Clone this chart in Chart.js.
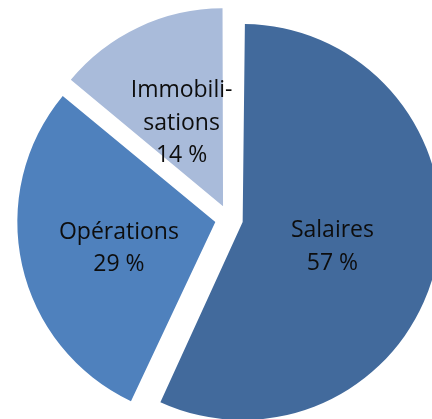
<!DOCTYPE html>
<html>
<head>
<meta charset="utf-8">
<script src="https://cdn.jsdelivr.net/npm/chart.js@4"></script>
<style>
  html, body { margin: 0; padding: 0; background: #ffffff; }
  #wrap { width: 432px; height: 419px; position: relative; }
</style>
</head>
<body>
<div id="wrap"><canvas id="c"></canvas></div>
<script>
const categories = ["Salaires", "Opérations", "Immobilisations"];
const labelLines = [["Salaires"], ["Opérations"], ["Immobili-", "sations"]];
const values = [57, 29, 14];
const colors = ["#426A9C", "#4F81BD", "#A9BBDA"];

// Keep every slice at the same radius: Chart.js enlarges slices wider than 180° by offset/4.
const equalRadius = {
  id: "equalRadius",
  afterDatasetUpdate(chart, args) {
    args.meta.data.forEach(el => {
      const off = (el.options.offset || 0) / 4;
      const fix = 1 - Math.sin(Math.min(Math.PI, el.circumference || 0));
      el.outerRadius -= off * fix;
    });
  }
};

const sliceLabels = {
  id: "sliceLabels",
  afterDatasetsDraw(chart) {
    const ctx = chart.ctx;
    const meta = chart.getDatasetMeta(0);
    const data = chart.data.datasets[0].data;
    const total = data.reduce((a, b) => a + b, 0);
    ctx.save();
    ctx.font = "23px 'Open Sans'";
    ctx.fillStyle = "#0D0D0D";
    ctx.textAlign = "center";
    ctx.textBaseline = "alphabetic";
    meta.data.forEach((el, i) => {
      const mid = (el.startAngle + el.endAngle) / 2;
      const off = (el.options.offset || 0) / 4;
      const r = el.outerRadius * 0.5 + off;
      const lx = el.x + Math.cos(mid) * r;
      const ly = el.y + Math.sin(mid) * r;
      const lines = labelLines[i].concat([Math.round(data[i] / total * 100) + " %"]);
      const lh = 32.7;
      lines.forEach((t, k) => {
        ctx.fillText(t, lx, ly + (k - (lines.length - 1) / 2) * lh + 11.5);
      });
    });
    ctx.restore();
  }
};

new Chart(document.getElementById("c"), {
  type: "pie",
  data: {
    labels: categories,
    datasets: [{
      data: values,
      backgroundColor: colors,
      borderWidth: 0,
      offset: 56,
      hoverOffset: 56,
      clip: false
    }]
  },
  options: {
    responsive: true,
    maintainAspectRatio: false,
    animation: false,
    radius: 198,
    layout: { padding: { left: 26, top: 19, right: 0, bottom: 0 } },
    plugins: {
      legend: { display: false },
      tooltip: { enabled: false }
    },
    events: []
  },
  plugins: [equalRadius, sliceLabels]
});
</script>
</body>
</html>
